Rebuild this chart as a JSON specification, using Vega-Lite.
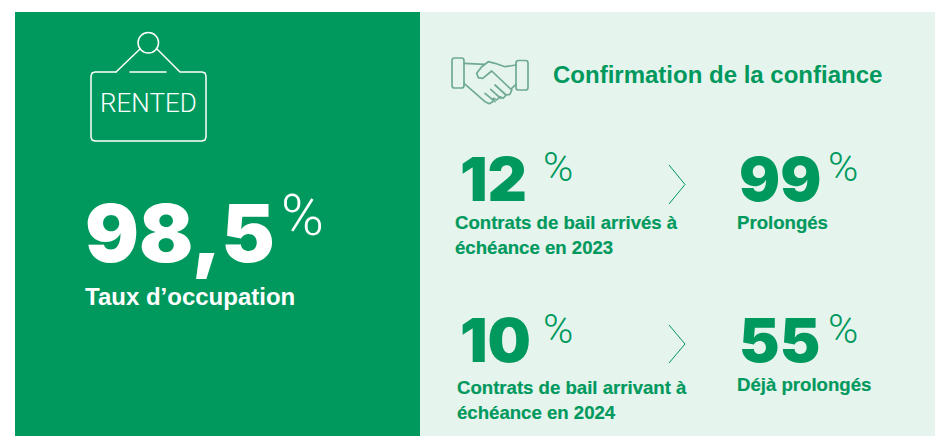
{
"$schema":"https://vega.github.io/schema/vega-lite/v6.json",
"width":935,"height":436,"padding":0,"autosize":{"type":"none"},"background":"#ffffff",
"config":{"view":{"stroke":null},"axis":{"domain":false}},
"layer":[
{"data":{"values":[{"panel":"gauche","x":15,"x2":420,"y":12,"y2":436},{"panel":"droite","x":420,"x2":935,"y":12,"y2":436}]},
 "mark":{"type":"rect"},
 "encoding":{"x":{"field":"x","type":"quantitative","scale":{"domain":[0,935]},"axis":null},"x2":{"field":"x2"},"y":{"field":"y","type":"quantitative","scale":{"domain":[436,0]},"axis":null},"y2":{"field":"y2"},
 "color":{"field":"panel","type":"nominal","scale":{"domain":["gauche","droite"],"range":["#00995D","#E6F4EE"]},"legend":null}}},
{"data":{"values":[
 {"id":"panneau","o":1,"x":116,"y":72},{"id":"panneau","o":2,"x":95,"y":72},{"id":"panneau","o":3,"x":92,"y":73},{"id":"panneau","o":4,"x":91,"y":76},{"id":"panneau","o":5,"x":91,"y":137},{"id":"panneau","o":6,"x":92,"y":140},{"id":"panneau","o":7,"x":95,"y":141},{"id":"panneau","o":8,"x":202,"y":141},{"id":"panneau","o":9,"x":205,"y":140},{"id":"panneau","o":10,"x":206,"y":137},{"id":"panneau","o":11,"x":206,"y":76},{"id":"panneau","o":12,"x":205,"y":73},{"id":"panneau","o":13,"x":202,"y":72},{"id":"panneau","o":14,"x":180,"y":72},{"id":"panneau","o":15,"x":157,"y":49},
 {"id":"fil","o":1,"x":116,"y":72},{"id":"fil","o":2,"x":140,"y":49},
 {"id":"trait","o":1,"x":130,"y":72},{"id":"trait","o":2,"x":166,"y":72}
 ]},
 "mark":{"type":"line","stroke":"#ffffff","strokeWidth":1.5,"strokeJoin":"round","strokeCap":"round"},
 "encoding":{"x":{"field":"x","type":"quantitative","scale":{"domain":[0,935]},"axis":null},"y":{"field":"y","type":"quantitative","scale":{"domain":[436,0]},"axis":null},"detail":{"field":"id"},"order":{"field":"o"}}},
{"data":{"values":[{"x":148.3,"y":42.7}]},
 "mark":{"type":"point","filled":false,"stroke":"#ffffff","strokeWidth":1.5,"size":420,"opacity":1},
 "encoding":{"x":{"field":"x","type":"quantitative","scale":{"domain":[0,935]},"axis":null},"y":{"field":"y","type":"quantitative","scale":{"domain":[436,0]},"axis":null}}},
{"data":{"values":[{"x":452,"x2":464,"y":58,"y2":88},{"x":516,"x2":528,"y":60.5,"y2":90}]},
 "mark":{"type":"rect","filled":false,"fillOpacity":0,"stroke":"#6FAA93","strokeWidth":1.7,"cornerRadius":2.5},
 "encoding":{"x":{"field":"x","type":"quantitative","scale":{"domain":[0,935]},"axis":null},"x2":{"field":"x2"},"y":{"field":"y","type":"quantitative","scale":{"domain":[436,0]},"axis":null},"y2":{"field":"y2"}}},
{"data":{"values":[
 {"id":"a","o":1,"x":464,"y":63.3},{"id":"a","o":2,"x":485,"y":64.3},
 {"id":"b","o":1,"x":516,"y":65},{"id":"b","o":2,"x":505,"y":66.7},{"id":"b","o":3,"x":495,"y":63.3},{"id":"b","o":4,"x":488.3,"y":61.7},{"id":"b","o":5,"x":481.7,"y":66.7},{"id":"b","o":6,"x":476.7,"y":73.3},{"id":"b","o":7,"x":478.3,"y":77.7},{"id":"b","o":8,"x":482.7,"y":78.3},{"id":"b","o":9,"x":491.7,"y":71},{"id":"b","o":10,"x":511.7,"y":90},
 {"id":"c","o":1,"x":464,"y":83.3},{"id":"c","o":2,"x":485,"y":101.7},{"id":"c","o":3,"x":489.3,"y":103.7},{"id":"c","o":4,"x":492.7,"y":101.7},{"id":"c","o":5,"x":493.3,"y":98.3},{"id":"c","o":6,"x":496.7,"y":100},{"id":"c","o":7,"x":500,"y":96.7},{"id":"c","o":8,"x":503.3,"y":98.3},{"id":"c","o":9,"x":506,"y":95},{"id":"c","o":10,"x":510,"y":94.3},{"id":"c","o":11,"x":511.7,"y":90},
 {"id":"d","o":1,"x":485,"y":93.3},{"id":"d","o":2,"x":495,"y":101.7},
 {"id":"e","o":1,"x":490.7,"y":89.3},{"id":"e","o":2,"x":500.7,"y":98.3},
 {"id":"f","o":1,"x":495,"y":85},{"id":"f","o":2,"x":506,"y":95},
 {"id":"g","o":1,"x":516,"y":84.3},{"id":"g","o":2,"x":511.7,"y":88.3}
 ]},
 "mark":{"type":"line","stroke":"#6FAA93","strokeWidth":1.7,"strokeJoin":"round","strokeCap":"round"},
 "encoding":{"x":{"field":"x","type":"quantitative","scale":{"domain":[0,935]},"axis":null},"y":{"field":"y","type":"quantitative","scale":{"domain":[436,0]},"axis":null},"detail":{"field":"id"},"order":{"field":"o"}}},
{"data":{"values":[
 {"id":"h","o":1,"x":669,"y":165},{"id":"h","o":2,"x":685,"y":184.5},{"id":"h","o":3,"x":669,"y":204},
 {"id":"b","o":1,"x":669,"y":325},{"id":"b","o":2,"x":685,"y":344},{"id":"b","o":3,"x":669,"y":363}
 ]},
 "mark":{"type":"line","stroke":"#00995D","strokeWidth":1},
 "encoding":{"x":{"field":"x","type":"quantitative","scale":{"domain":[0,935]},"axis":null},"y":{"field":"y","type":"quantitative","scale":{"domain":[436,0]},"axis":null},"detail":{"field":"id"},"order":{"field":"o"}}},
{"data":{"values":[{"t":"RENTED","x":100,"y":112}]},
 "mark":{"type":"text","font":"Roboto","fontWeight":300,"fontSize":26,"align":"left","baseline":"alphabetic","fill":"#ffffff"},
 "encoding":{"x":{"field":"x","type":"quantitative","scale":{"domain":[0,935]},"axis":null},"y":{"field":"y","type":"quantitative","scale":{"domain":[436,0]},"axis":null},"text":{"field":"t"}}},
{"data":{"values":[{"t":"98,5","x":85,"y":262}]},
 "mark":{"type":"text","font":"Inter","fontWeight":900,"fontSize":80,"align":"left","baseline":"alphabetic","fill":"#ffffff"},
 "encoding":{"x":{"field":"x","type":"quantitative","scale":{"domain":[0,935]},"axis":null},"y":{"field":"y","type":"quantitative","scale":{"domain":[436,0]},"axis":null},"text":{"field":"t"}}},
{"data":{"values":[{"t":"%","x":281,"y":235}]},
 "mark":{"type":"text","font":"Roboto","fontWeight":300,"fontSize":58,"align":"left","baseline":"alphabetic","fill":"#ffffff"},
 "encoding":{"x":{"field":"x","type":"quantitative","scale":{"domain":[0,935]},"axis":null},"y":{"field":"y","type":"quantitative","scale":{"domain":[436,0]},"axis":null},"text":{"field":"t"}}},
{"data":{"values":[{"t":"Taux d’occupation","x":85,"y":305}]},
 "mark":{"type":"text","font":"Liberation Sans","fontWeight":"bold","fontSize":24,"align":"left","baseline":"alphabetic","fill":"#ffffff"},
 "encoding":{"x":{"field":"x","type":"quantitative","scale":{"domain":[0,935]},"axis":null},"y":{"field":"y","type":"quantitative","scale":{"domain":[436,0]},"axis":null},"text":{"field":"t"}}},
{"data":{"values":[{"t":"Confirmation de la confiance","x":553,"y":83}]},
 "mark":{"type":"text","font":"Liberation Sans","fontWeight":"bold","fontSize":24,"align":"left","baseline":"alphabetic","fill":"#00995D"},
 "encoding":{"x":{"field":"x","type":"quantitative","scale":{"domain":[0,935]},"axis":null},"y":{"field":"y","type":"quantitative","scale":{"domain":[436,0]},"axis":null},"text":{"field":"t"}}},
{"data":{"values":[{"t":"12","x":460,"y":201},{"t":"99","x":739,"y":201},{"t":"10","x":460,"y":362},{"t":"55","x":739,"y":362}]},
 "mark":{"type":"text","font":"Inter","fontWeight":900,"fontSize":61,"align":"left","baseline":"alphabetic","fill":"#00995D"},
 "encoding":{"x":{"field":"x","type":"quantitative","scale":{"domain":[0,935]},"axis":null},"y":{"field":"y","type":"quantitative","scale":{"domain":[436,0]},"axis":null},"text":{"field":"t"}}},
{"data":{"values":[{"t":"%","x":543,"y":181},{"t":"%","x":828,"y":181},{"t":"%","x":543,"y":343},{"t":"%","x":828,"y":343}]},
 "mark":{"type":"text","font":"Roboto","fontWeight":300,"fontSize":41,"align":"left","baseline":"alphabetic","fill":"#00995D"},
 "encoding":{"x":{"field":"x","type":"quantitative","scale":{"domain":[0,935]},"axis":null},"y":{"field":"y","type":"quantitative","scale":{"domain":[436,0]},"axis":null},"text":{"field":"t"}}},
{"data":{"values":[{"t":"Contrats de bail arrivés à","x":455,"y":229},{"t":"échéance en 2023","x":455,"y":254},{"t":"Prolongés","x":737,"y":229},{"t":"Contrats de bail arrivant à","x":457,"y":394},{"t":"échéance en 2024","x":457,"y":419},{"t":"Déjà prolongés","x":737,"y":391}]},
 "mark":{"type":"text","font":"Liberation Sans","fontWeight":"bold","fontSize":18.6,"align":"left","baseline":"alphabetic","fill":"#00995D","stroke":"#00995D","strokeWidth":0.2},
 "encoding":{"x":{"field":"x","type":"quantitative","scale":{"domain":[0,935]},"axis":null},"y":{"field":"y","type":"quantitative","scale":{"domain":[436,0]},"axis":null},"text":{"field":"t"}}}
]}
